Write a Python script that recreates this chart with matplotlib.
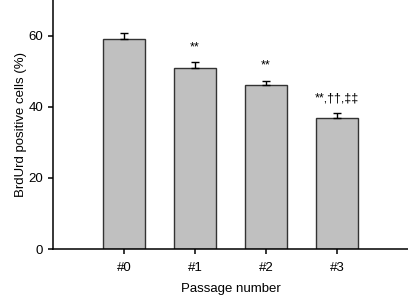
import matplotlib
matplotlib.use("Agg")
import matplotlib.pyplot as plt

# data
passages = ["#0", "#1", "#2", "#3"]
brdurd = [59.0, 51.0, 46.2, 36.8]
sem = [1.8, 1.6, 1.1, 1.3]
marks = ["", "**", "**", "**,\u2020\u2020,\u2021\u2021"]
mark_y = [0, 56.6, 51.6, 42.3]

plt.rcParams['font.family'] = ['Liberation Sans', 'DejaVu Sans']

fig = plt.figure(figsize=(4.08, 2.98), dpi=100)
ax = fig.add_axes([0.130, 0.1644, 0.870, 0.8356])

x = range(len(passages))
ax.bar(x, brdurd, width=0.6, color="#c0c0c0", edgecolor="#333333", linewidth=1.0)
ax.errorbar(x, brdurd, yerr=[[0] * len(sem), sem], fmt="none", ecolor="black",
            elinewidth=1.0, capsize=3, capthick=1.0)

# significance marks above the bars
for i, m in enumerate(marks):
    if m:
        ax.text(i, mark_y[i], m, ha="center", va="center", fontsize=9)

ax.set_xlim(-1, 4)
ax.set_ylim(0, 70)
ax.set_yticks([0, 20, 40, 60])
ax.set_xticks(list(x))
ax.set_xticklabels(passages)
ax.spines["top"].set_visible(False)
ax.spines["right"].set_visible(False)
ax.spines["left"].set_linewidth(1.1)
ax.spines["bottom"].set_linewidth(1.1)
ax.tick_params(axis="both", direction="out", length=3.5, width=1.1, labelsize=9.5)
ax.tick_params(axis="x", pad=6)
ax.set_xlabel("Passage number", fontsize=9.5, labelpad=6)
ax.set_ylabel("BrdUrd positive cells (%)", fontsize=9.5, labelpad=1)

fig.savefig("out.png", dpi=100)
